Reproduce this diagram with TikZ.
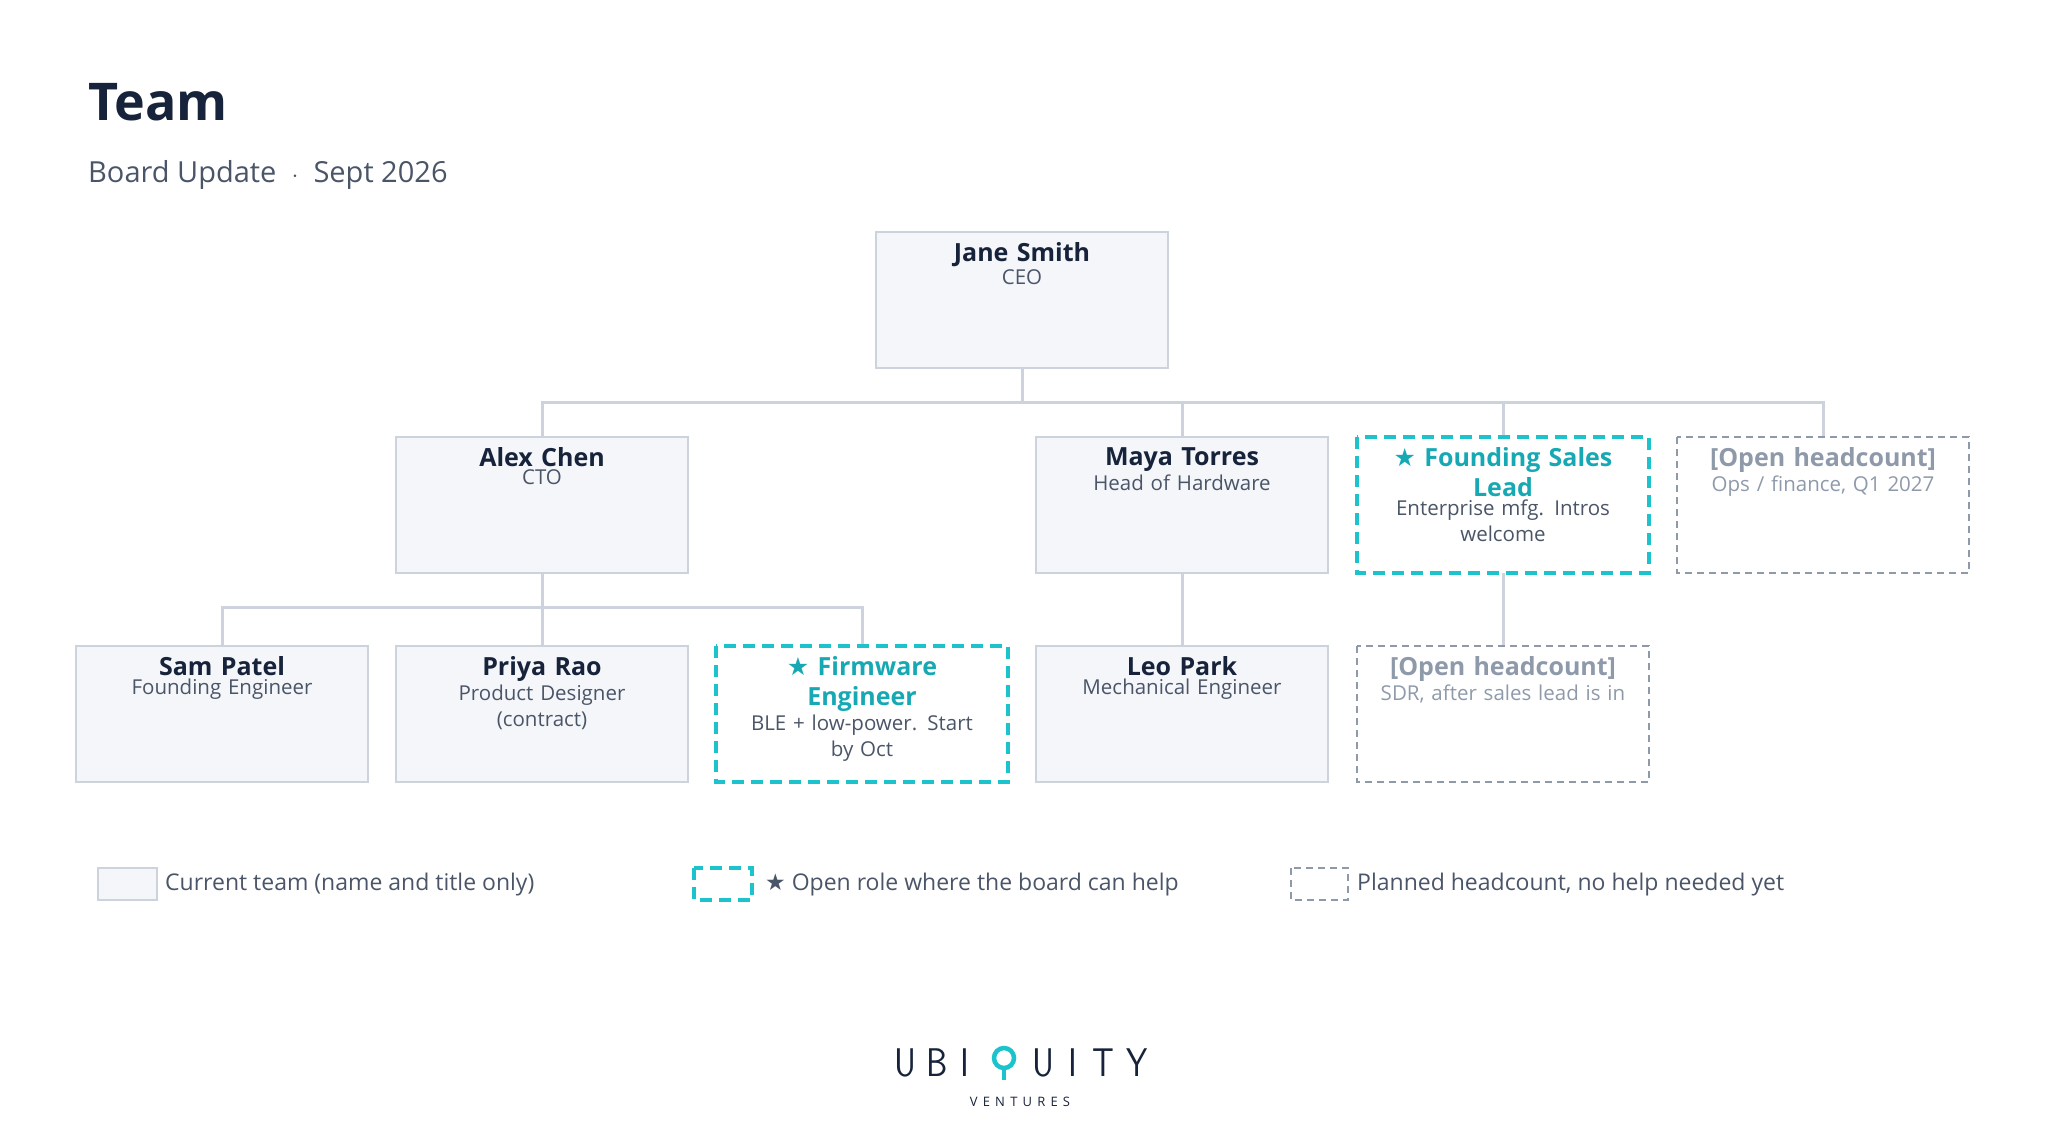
\documentclass[tikz,border=0pt]{standalone}
\usepackage{fontspec}
\setmainfont{Open Sans}
\newfontfamily\sym{DejaVu Sans}
\usetikzlibrary{calc}
\definecolor{navy}{HTML}{16233A}
\definecolor{sub}{HTML}{4A5568}
\definecolor{boxf}{HTML}{F4F6FA}
\definecolor{boxd}{HTML}{CDD3DD}
\definecolor{teal}{HTML}{1CC3CC}
\definecolor{tealt}{HTML}{17A9B3}
\definecolor{dgray}{HTML}{8E99AA}
\definecolor{ltxt}{HTML}{8E99AA}
\begin{document}
\begin{tikzpicture}[x=1pt,y=-1pt,
 cur/.style={draw=boxd,fill=boxf,line width=2.5pt},
 help/.style={draw=teal,line width=3.5pt,dash pattern=on 12pt off 7pt},
 plan/.style={draw=dgray,line width=2.2pt,dash pattern=on 7pt off 5pt},
 conn/.style={draw=boxd,line width=3pt},
 nm/.style={anchor=north,align=center,text width=280pt,inner sep=0pt,font=\fontsize{25}{30}\selectfont\bfseries,text=navy},
 ttl/.style={anchor=north,align=center,text width=270pt,inner sep=0pt,font=\fontsize{20.5}{26}\selectfont,text=sub},
 leg/.style={anchor=west,font=\fontsize{23}{28}\selectfont,color=sub,inner sep=0pt}]
\useasboundingbox (0,0) rectangle (2048,1148);
\node[anchor=base west,inner sep=0pt,font=\fontsize{52}{60}\selectfont\bfseries,color=navy] (title) at (88,120) {Team};
\node[anchor=base west,inner sep=0pt,font=\fontsize{29}{36}\selectfont,color=sub] (subt) at (88,182) {Board Update \ $\cdot$ \ Sept 2026};
\def\bw{146}\def\bh{68}
\newcommand\bx[4]{\path[#4] (#1-\bw,#2) rectangle (#1+\bw,#2+2*\bh); \coordinate (#3t) at (#1,#2);}
\draw[conn] (1022,367) -- (1022,402);
\draw[conn] (542,437) -- (542,402) -- (1823,402) -- (1823,437);
\draw[conn] (1182,402) -- (1182,437); \draw[conn] (1503,402) -- (1503,437);
\draw[conn] (542,573) -- (542,646);
\draw[conn] (222,646) -- (222,607) -- (862,607) -- (862,646);
\draw[conn] (1182,573) -- (1182,646);
\draw[conn] (1503,573) -- (1503,646);
\bx{1022}{232}{ceo}{cur}
\bx{542}{437}{alex}{cur}
\bx{1182}{437}{maya}{cur}
\bx{1503}{437}{sales}{help}
\bx{1823}{437}{oh1}{plan}
\bx{222}{646}{sam}{cur}
\bx{542}{646}{priya}{cur}
\bx{862}{646}{fw}{help}
\bx{1182}{646}{leo}{cur}
\bx{1503}{646}{oh2}{plan}
\newcommand\lb[4]{\node[nm,text=#4] (#1n) at ($(#1t)+(0,10)$) {#2};
 \node[ttl] (#1s) at ($(#1n.south)+(0,3)$) {#3};}
\lb{ceo}{Jane Smith}{CEO}{navy}
\lb{alex}{Alex Chen}{CTO}{navy}
\lb{maya}{Maya Torres}{Head of Hardware}{navy}
\lb{sales}{{\sym ★} Founding Sales\\Lead}{Enterprise mfg. Intros\\welcome}{tealt}
\lb{sam}{Sam Patel}{Founding Engineer}{navy}
\lb{priya}{Priya Rao}{Product Designer\\(contract)}{navy}
\lb{fw}{{\sym ★} Firmware\\Engineer}{BLE + low-power. Start\\by Oct}{tealt}
\lb{leo}{Leo Park}{Mechanical Engineer}{navy}
\lb{oh1}{[Open headcount]}{\color{ltxt}Ops / finance, Q1 2027}{ltxt}
\lb{oh2}{[Open headcount]}{\color{ltxt}SDR, after sales lead is in}{ltxt}
% legend
\path[cur] (98,868) rectangle (157,900);
\node[leg] (l1) at (165,885) {Current team (name and title only)};
\path[help] (694,868) rectangle (752,900);
\node[leg] (l2) at (765,885) {{\sym ★} Open role where the board can help};
\path[plan] (1291,868) rectangle (1348,900);
\node[leg] (l3) at (1357,885) {Planned headcount, no help needed yet};
% logo
\foreach \c/\x in {U/905,B/937,I/965,U/1043,I/1073,T/1103,Y/1137}
  \node[font=\fontsize{40}{40}\sffamily,color=navy,inner sep=0pt,anchor=base,xscale=0.85] at (\x,1076) {\c};
\draw[teal,line width=4.5pt] (1004,1058) circle (10);
\draw[teal,line width=4.5pt] (1004,1066) -- (1004,1080);
\node[font=\fontsize{13}{13}\selectfont\addfontfeature{LetterSpace=40},color=navy,inner sep=0pt] (ventures) at (1020,1102) {VENTURES};
\end{tikzpicture}
\end{document}
